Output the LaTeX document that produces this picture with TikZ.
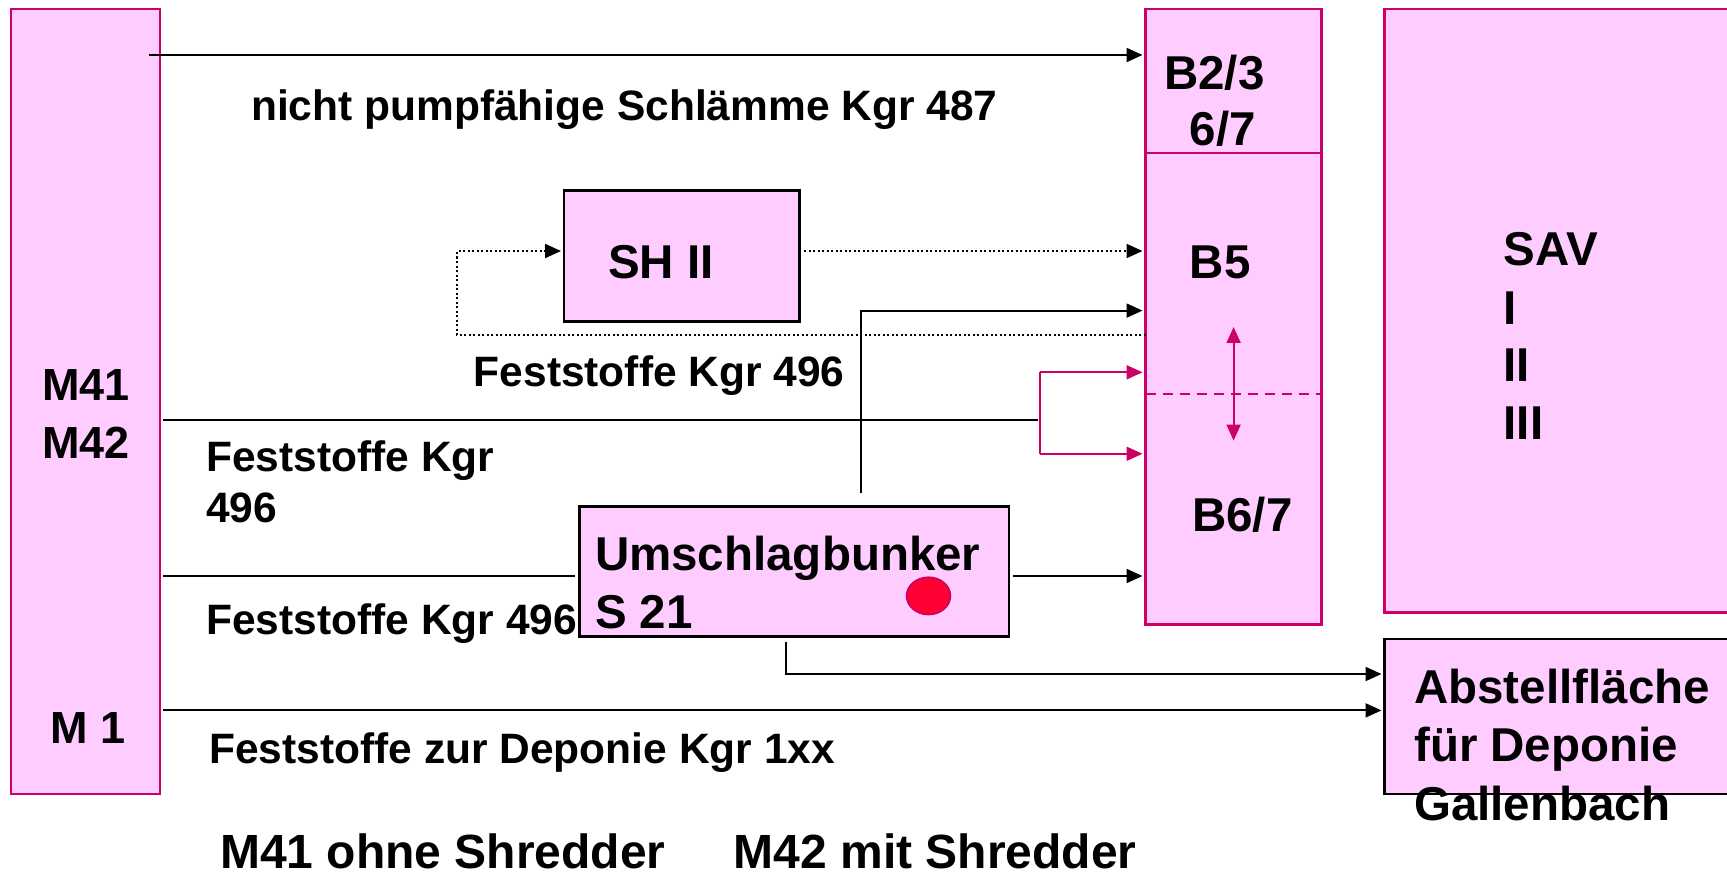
\documentclass[tikz,border=0pt]{standalone}
\usepackage{fontspec}
\setmainfont{Liberation Sans}
\usetikzlibrary{arrows.meta,shapes.geometric}
\definecolor{pinkfill}{RGB}{255,204,255}
\definecolor{magline}{RGB}{204,0,102}
\definecolor{reddot}{RGB}{255,0,51}
\tikzset{
  mbox/.style={draw=magline, fill=pinkfill, line width=2.5pt, inner sep=0pt, outer sep=0pt},
  kbox/.style={draw=black, fill=pinkfill, line width=2.5pt, inner sep=0pt, outer sep=0pt},
  conn/.style={line width=2pt, draw=black},
  arr/.style={conn, -{Triangle[length=16pt,width=14pt]}, shorten >=3pt},
  dotline/.style={line width=2pt, draw=black, dash pattern=on 2pt off 2.5pt},
  dotarr/.style={dotline, -{Triangle[length=16pt,width=14pt]}, shorten >=3pt},
  magconn/.style={line width=2pt, draw=magline},
  magarr/.style={magconn, -{Triangle[length=16pt,width=14pt]}, shorten >=3pt},
  magdbl/.style={magconn, {Triangle[length=16pt,width=14pt]}-{Triangle[length=16pt,width=14pt]}},
  lbl/.style={anchor=base west, inner sep=0pt, font=\bfseries\fontsize{42.5}{50}\selectfont},
  btxt/.style={anchor=base west, inner sep=0pt, font=\bfseries\fontsize{47.5}{55}\selectfont},
  mtxt/.style={anchor=base west, inner sep=0pt, font=\bfseries\fontsize{45}{52}\selectfont},
  captxt/.style={anchor=base west, inner sep=0pt, font=\bfseries\fontsize{48}{56}\selectfont},
}
\begin{document}
\begin{tikzpicture}[x=1pt,y=-1pt]
\useasboundingbox (0,0) rectangle (1727,877);
\clip (0,0) rectangle (1727,877);
\fill[white] (0,0) rectangle (1727,877);

% boxes
\node[mbox, minimum width=149pt, minimum height=785pt] (M) at (85.5,401.5) {};
\node[mbox, minimum width=176.2pt, minimum height=615.5pt] (B) at (1233.6,316.75) {};
\node[mbox, minimum width=360pt, minimum height=603.4pt, anchor=north west] (SAV) at (1384.5,9) {};
\node[kbox, minimum width=360pt, minimum height=155.2pt, anchor=north west] (A) at (1384.5,638.8) {};
\node[kbox, minimum width=235.6pt, minimum height=131pt] (SH) at (681.8,256) {};
\node[kbox, minimum width=429.6pt, minimum height=130pt] (U) at (794.1,571.6) {};
\node[draw=magline, fill=reddot, line width=1.5pt, ellipse, inner sep=0pt, minimum width=44pt, minimum height=37.4pt] (dot) at (928.5,595.9) {};

% B column dividers
\coordinate (dv) at (0,153);
\draw[magconn, line width=2.5pt] (dv -| B.west) -- (dv -| B.east);
\coordinate (dd) at (0,394);
\draw[magconn, dash pattern=on 10pt off 7pt] (dd -| B.west) -- (dd -| B.east);
\draw[magdbl] ([yshift=-10.25pt]B.center) -- ([yshift=-123.85pt]B.center);

% connectors
\coordinate (m1) at (149,55);
\draw[arr] (m1) -- (m1 -| B.west);

\coordinate (sho) at (804,251);
\draw[dotarr] (sho) -- (sho -| B.west);
\coordinate (lp) at (457,335);
\coordinate (shi) at (457,251);
\draw[dotarr] (lp -| B.west) -- (lp) -- (shi) -- (shi -| SH.west);

\coordinate (uv) at (861.3,493.4);
\coordinate (ut) at (861.3,310.6);
\draw[arr] (uv) -- (ut) -- (ut -| B.west);

\coordinate (m2) at (163,419.6);
\coordinate (sp) at (1039.7,419.6);
\draw[conn] (m2) -- ([xshift=-2pt]sp);
\coordinate (sp1) at (1039.7,372.3);
\coordinate (sp2) at (1039.7,453.8);
\draw[magconn] (sp1) -- (sp2);
\draw[magarr] (sp1) -- (sp1 -| B.west);
\draw[magarr] (sp2) -- (sp2 -| B.west);

\coordinate (m3) at (163,576);
\draw[conn, shorten >=4pt] (m3) -- (m3 -| U.west);
\draw[arr, shorten <=4pt] (m3 -| U.east) -- (m3 -| B.west);

\coordinate (ub) at (786.4,674);
\draw[arr, shorten <=5pt] (ub |- U.south) -- (ub) -- (ub -| A.west);

\coordinate (m4) at (163,710.4);
\draw[arr] (m4) -- (m4 -| A.west);

% texts
\node[mtxt] (tM41) at (42,400) {M41};
\node[mtxt] (tM42) at (42,458) {M42};
\node[mtxt] (tM1) at (50,743) {M 1};
\node[btxt] (tB23) at (1164,90) {B2/3};
\node[btxt] (tB67a) at (1189.5,146) {6/7};
\node[btxt] (tB5) at (1189.5,279) {B5};
\node[btxt] (tB67) at (1192,531) {B6/7};
\node[btxt] (tSAV) at (1503.4,266) {SAV};
\node[btxt] (tI) at (1503.4,325) {I};
\node[btxt] (tII) at (1503.4,381.6) {II};
\node[btxt] (tIII) at (1503.4,439) {III};
\node[btxt] (tA1) at (1414,703) {Abstellfläche};
\node[btxt] (tA2) at (1414,761.5) {für Deponie};
\node[btxt] (tA3) at (1414,820) {Gallenbach};
\node[btxt] (tSH) at (608,279) {SH II};
\node[btxt] (tU1) at (594.8,570) {Umschlagbunker};
\node[btxt] (tU2) at (594.8,628) {S 21};

\node[lbl] (l1) at (251,121) {nicht pumpfähige Schlämme Kgr 487};
\node[lbl] (l2) at (473.6,386) {Feststoffe Kgr 496};
\node[lbl] (l3) at (206,471) {Feststoffe Kgr};
\node[lbl] (l3b) at (206,522.7) {496};
\node[lbl] (l4) at (206,634) {Feststoffe Kgr 496};
\node[lbl] (l5) at (209,763) {Feststoffe zur Deponie Kgr 1xx};

\node[captxt] (c1) at (220,868) {M41 ohne Shredder};
\node[captxt] (c2) at (733.5,868) {M42 mit Shredder};
\end{tikzpicture}
\end{document}
